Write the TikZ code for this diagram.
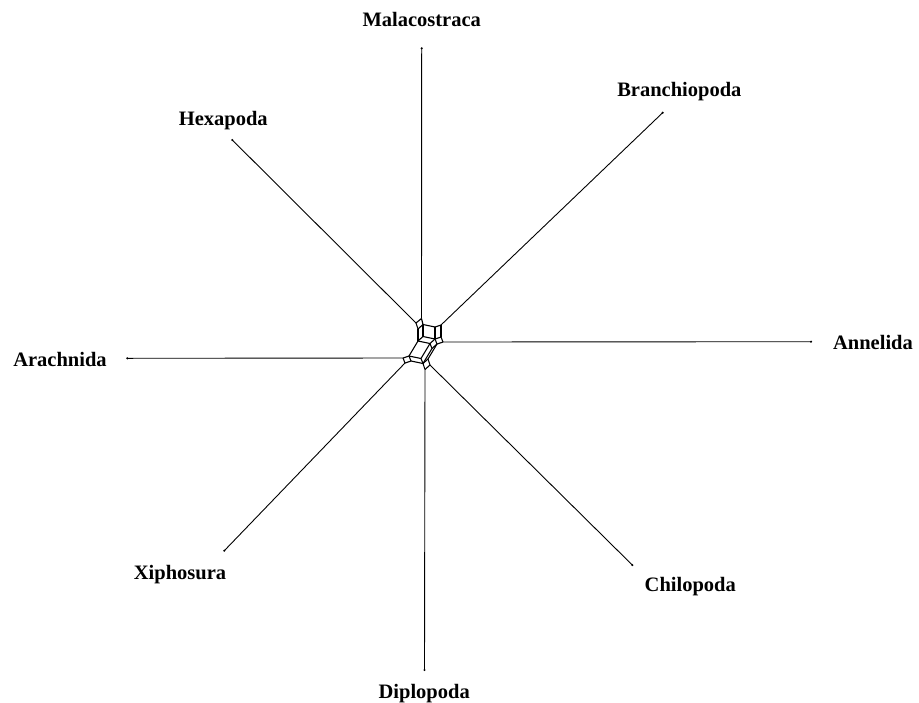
\documentclass[tikz,border=0pt]{standalone}
\usepackage{fontspec}
\setmainfont{Liberation Serif}
\begin{document}
\begin{tikzpicture}[x=1pt,y=-1pt,
  lbl/.style={font=\fontsize{20.5}{24}\selectfont\bfseries, inner sep=0pt, anchor=base},
  edge/.style={draw=black, line width=1.1pt, line join=round},
  pend/.style={draw=black, line width=0.9pt},
  tipdot/.style={fill=black, draw=none}]
\useasboundingbox (0,0) rectangle (919,702);
% mesh nodes
\coordinate (n0) at (428,359);
\coordinate (nT) at (423,363.5);
\coordinate (nP) at (437,344);
\coordinate (nV) at (430,365);
\coordinate (nTP) at (432,348.5);
\coordinate (nTV) at (425,369.5);
\coordinate (nTQ) at (421,358.5);
\coordinate (nTR) at (411,361);
\coordinate (nTQR) at (409,356);
\coordinate (nPQT) at (430,343.5);
\coordinate (nPQ) at (435,339);
\coordinate (nPW) at (443,342);
\coordinate (nPQW) at (441,337);
\coordinate (nRTY) at (405,363);
\coordinate (nRTQY) at (403,358);
\coordinate (nPQZ) at (435,327);
\coordinate (nPQWZ) at (441,325);
\coordinate (nPQR) at (423,336.5);
\coordinate (nPQRZ) at (423,324.5);
\coordinate (nPQRT) at (418,341);
\coordinate (nPQRTZ) at (418,329);
\coordinate (nPQRZU) at (421.5,318.5);
\coordinate (nPQRZUT) at (416,323);
% outer ends
\coordinate (oM) at (421.7,48.3);
\coordinate (oB) at (662.7,112.7);
\coordinate (oA) at (811,341.7);
\coordinate (oC) at (632.3,565);
\coordinate (oD) at (424.5,670);
\coordinate (oX) at (224.3,550.7);
\coordinate (oAr) at (127.3,358.3);
\coordinate (oH) at (232.3,140);
% pendant edges
\draw[pend] (nPQRZU) -- (oM);
\draw[pend] (nPQWZ) -- (oB);
\draw[pend] (nPW) -- (oA);
\draw[pend] (nV) -- (oC);
\draw[pend] (nTV) -- (oD);
\draw[pend] (nRTY) -- (oX);
\draw[pend] (nRTQY) -- (oAr);
\draw[pend] (nPQRZUT) -- (oH);
\foreach \p in {oM,oB,oA,oC,oD,oX,oAr,oH} \fill[tipdot] (\p) circle (1.2);
% network edges
\draw[edge] (n0) -- (nP);
\draw[edge] (nT) -- (nTP);
\draw[edge] (nTQ) -- (nPQT);
\draw[edge] (nTQR) -- (nPQRT);
\draw[edge] (nT) -- (nTQ);
\draw[edge] (nP) -- (nPQ);
\draw[edge] (nTR) -- (nTQR);
\draw[edge] (nTP) -- (nPQT);
\draw[edge] (nPW) -- (nPQW);
\draw[edge] (nRTY) -- (nRTQY);
\draw[edge] (nT) -- (nTR);
\draw[edge] (nTQ) -- (nTQR);
\draw[edge] (nPQ) -- (nPQR);
\draw[edge] (nPQZ) -- (nPQRZ);
\draw[edge] (nPQT) -- (nPQRT);
\draw[edge] (n0) -- (nT);
\draw[edge] (nP) -- (nTP);
\draw[edge] (nV) -- (nTV);
\draw[edge] (nPQ) -- (nPQT);
\draw[edge] (nPQR) -- (nPQRT);
\draw[edge] (nPQRZ) -- (nPQRTZ);
\draw[edge] (nPQRZU) -- (nPQRZUT);
\draw[edge] (nPQRZ) -- (nPQRZU);
\draw[edge] (nPQRTZ) -- (nPQRZUT);
\draw[edge] (n0) -- (nV);
\draw[edge] (nT) -- (nTV);
\draw[edge] (nP) -- (nPW);
\draw[edge] (nPQ) -- (nPQW);
\draw[edge] (nPQZ) -- (nPQWZ);
\draw[edge] (nTR) -- (nRTY);
\draw[edge] (nTQR) -- (nRTQY);
\draw[edge] (nPQ) -- (nPQZ);
\draw[edge] (nPQW) -- (nPQWZ);
\draw[edge] (nPQR) -- (nPQRZ);
\draw[edge] (nPQRT) -- (nPQRTZ);
% labels
\node[lbl] (lM) at (421.7,26.7) {Malacostraca};
\node[lbl] (lB) at (679.4,96.7) {Branchiopoda};
\node[lbl] (lA) at (873,349) {Annelida};
\node[lbl] (lC) at (690.3,591.7) {Chilopoda};
\node[lbl] (lD) at (424.2,698.3) {Diplopoda};
\node[lbl] (lX) at (180,579.3) {Xiphosura};
\node[lbl] (lAr) at (60,366) {Arachnida};
\node[lbl] (lH) at (223.3,125) {Hexapoda};
\end{tikzpicture}
\end{document}
